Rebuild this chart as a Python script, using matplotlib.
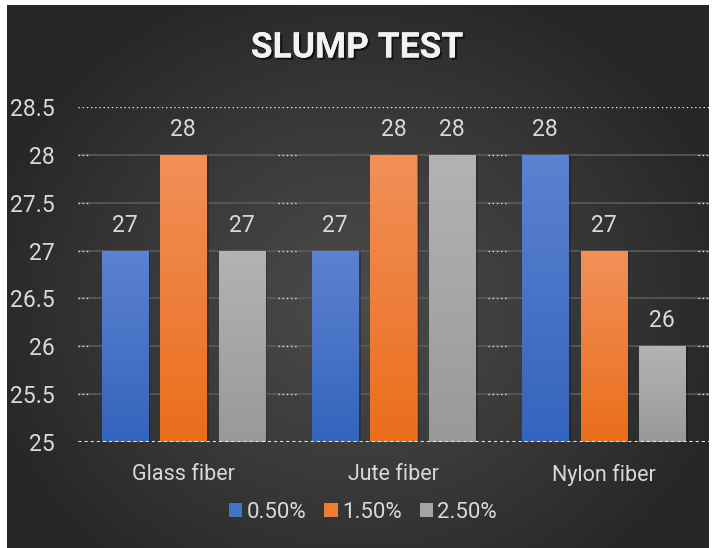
import numpy as np
import matplotlib.pyplot as plt
from matplotlib.colors import LinearSegmentedColormap
from matplotlib.patches import Patch
import matplotlib.patheffects as pe

plt.rcParams['font.family'] = ['Roboto', 'DejaVu Sans']

categories = ['Glass fiber', 'Jute fiber', 'Nylon fiber']
series_names = ['0.50%', '1.50%', '2.50%']
values = {
    '0.50%': [27, 27, 28],
    '1.50%': [28, 28, 27],
    '2.50%': [27, 28, 26],
}
y_ticks = [25, 25.5, 26, 26.5, 27, 27.5, 28, 28.5]
y_labels = ['25', '25.5', '26', '26.5', '27', '27.5', '28', '28.5']

# цвета: верх / низ градиента
colors_top = ['#5c82d0', '#f2905a', '#b3b3b3']
colors_bot = ['#3464bd', '#ea6e1b', '#999999']
colors_mid = ['#4472c4', '#ed7d31', '#a5a5a5']
text_col = '#d9d9d9'

fig = plt.figure(figsize=(7.15, 5.48), dpi=100)
fig.patch.set_facecolor('white')

# фон с радиальным градиентом
bg = fig.add_axes([7 / 715, 0, 702 / 715, 543 / 548])
bg.set_axis_off()
yy, xx = np.mgrid[0:1:400j, 0:1:500j]
r = np.sqrt(((xx - 0.5) / 0.75) ** 2 + ((yy - 0.55) / 0.85) ** 2)
r = np.clip(r / 0.75, 0, 1)
bg_cmap = LinearSegmentedColormap.from_list('bg', ['#4b4b4b', '#3a3a3a', '#262626'])
bg.imshow(r, cmap=bg_cmap, aspect='auto', extent=[0, 1, 0, 1], origin='upper')
bg.set_xlim(0, 1)
bg.set_ylim(0, 1)

ax = fig.add_axes([78 / 715, 106 / 548, 631 / 715, 335 / 548])
ax.set_facecolor('none')

x = np.arange(len(categories))
width = 0.22
step = 0.278

# сетка
for t in y_ticks[1:-1]:
    ax.axhline(t, color='#5a5a5a', lw=1.2, zorder=0)
    for b in [-0.5, 0.5, 1.5, 2.5]:
        ax.hlines(t, max(b - 0.05, -0.5), min(b + 0.05, 2.5), colors='#e0e0e0',
                  linestyles=(0, (1, 2)), lw=1, zorder=0.5)
ax.axhline(28.5, color='#e6e6e6', lw=1, linestyle=(0, (1, 2)), zorder=0)
ax.axhline(25, color='#e8e8e8', lw=2.2, linestyle=(0, (1, 1)), zorder=5)

grad = np.linspace(0, 1, 256).reshape(-1, 1)
for i, name in enumerate(series_names):
    pos = x + (i - 1) * step
    vals = values[name]
    # тень
    ax.bar(pos + 0.012, np.array(vals) - 25, width, bottom=25, color='black',
           alpha=0.22, zorder=1, linewidth=0)
    bars = ax.bar(pos, np.array(vals) - 25, width, bottom=25, color=colors_mid[i],
                  zorder=2, linewidth=0.8, edgecolor=(1, 1, 1, 0.12))
    cmap = LinearSegmentedColormap.from_list('g%d' % i, [colors_top[i], colors_bot[i]])
    for bar, v in zip(bars, vals):
        bx = bar.get_x()
        im = ax.imshow(grad, cmap=cmap, aspect='auto', zorder=3,
                       extent=[bx, bx + width, 25, v], origin='upper')
        im.set_clip_path(bar)
        ax.annotate(str(v), (bx + width / 2, v), xytext=(0, 10),
                    textcoords='offset points', ha='center', va='bottom',
                    color=text_col, fontsize=16.5)

ax.set_xlim(-0.5, 2.5)
ax.set_ylim(25, 28.5)
ax.set_yticks(y_ticks)
ax.set_yticklabels(y_labels)
ax.set_xticks(x)
ax.set_xticklabels(categories)
ax.tick_params(axis='y', length=0, pad=17, labelsize=16.5, labelcolor=text_col)
ax.tick_params(axis='x', length=0, pad=16, labelsize=15.5, labelcolor=text_col)
for s in ax.spines.values():
    s.set_visible(False)

fig.text(357 / 715, 1 - 48 / 548, 'SLUMP TEST', ha='center', va='center',
         fontsize=25.5, fontweight='bold', color='#f2f2f2',
         path_effects=[pe.withSimplePatchShadow(offset=(1.5, -1.5), shadow_rgbFace='black', alpha=0.6),
                       pe.Normal()])

handles = [Patch(facecolor=c, edgecolor='none') for c in colors_mid]
fig.legend(handles, series_names, loc='center', bbox_to_anchor=(363 / 715, 1 - 512 / 548),
           ncol=3, frameon=False, fontsize=16, labelcolor=text_col,
           handlelength=0.6, handleheight=0.6, handletextpad=0.2, columnspacing=0.8)

fig.savefig('out.png', dpi=100, facecolor=fig.get_facecolor())
